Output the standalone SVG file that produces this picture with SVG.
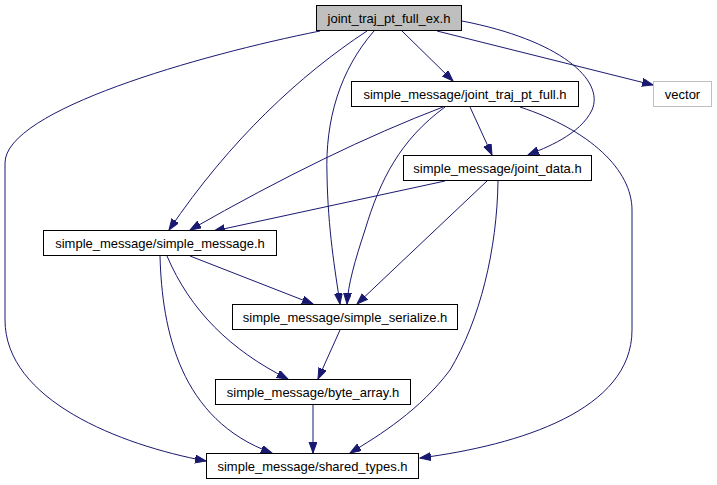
<svg xmlns="http://www.w3.org/2000/svg" width="717" height="485" viewBox="0 0 717 485">
<style>
.n{fill:#ffffff;stroke:#000000;stroke-width:1}
.g{fill:#bfbfbf;stroke:#000000;stroke-width:1}
.v{fill:#ffffff;stroke:#bfbfbf;stroke-width:1}
text{font-family:"Liberation Sans",Arial,sans-serif;font-size:13px;text-anchor:middle;fill:#000000}
.e path{fill:none;stroke:#191970;stroke-width:1;marker-end:url(#a)}
</style>
<defs>
<marker id="a" markerUnits="userSpaceOnUse" markerWidth="13" markerHeight="10" refX="11" refY="4" orient="auto">
<path d="M0,0 L11,4 L0,8 z" fill="#191970" stroke="#191970" stroke-width="1"/>
</marker>
</defs>
<rect width="717" height="485" fill="#ffffff"/>
<g class="e" id="edges">
<path d="M402,31 L453,81"/>
<path d="M437,31 L653,85"/>
<path d="M462,21 C560,40 605,80 592,110 C580,135 545,148 528,155"/>
<path d="M367,31 C300,75 230,140 169,230"/>
<path d="M374,31 C340,70 325,120 327,175 C328,230 335,270 340,304"/>
<path d="M320,31 C200,55 5,110 5,163 L5,320 C5,400 120,445 206,461"/>
<path d="M443,107 Q330,150 190,230"/>
<path d="M445,107 C400,140 380,180 365,230 C355,260 348,285 347,304"/>
<path d="M470,107 L492,155"/>
<path d="M520,107 C590,130 632,170 632,210 L632,330 C632,410 520,445 420,458"/>
<path d="M445,181 L214,231"/>
<path d="M487,181 L357,304"/>
<path d="M498,181 C497,250 480,320 450,370 C420,410 380,435 350,453"/>
<path d="M190,256 L313,304"/>
<path d="M167,256 C190,310 230,350 288,379"/>
<path d="M160,256 C162,330 180,420 272,453"/>
<path d="M340,330 L318,379"/>
<path d="M313,404 L313,453"/>
</g>
<g id="n_top"><rect class="g" x="316.5" y="5.5" width="145" height="25"/><text x="389" y="22.5">joint_traj_pt_full_ex.h</text></g>
<g id="n_jtpf"><rect class="n" x="351.5" y="81.5" width="227" height="25"/><text x="465" y="98.5">simple_message/joint_traj_pt_full.h</text></g>
<g id="n_vector"><rect class="v" x="653.5" y="81.5" width="58" height="25"/><text x="682.5" y="98.5">vector</text></g>
<g id="n_jd"><rect class="n" x="403.5" y="155.5" width="188" height="25"/><text x="497.5" y="172.5">simple_message/joint_data.h</text></g>
<g id="n_sm"><rect class="n" x="43.5" y="230.5" width="233" height="25"/><text x="160" y="247.5">simple_message/simple_message.h</text></g>
<g id="n_ss"><rect class="n" x="232.5" y="304.5" width="225" height="25"/><text x="345" y="321.5">simple_message/simple_serialize.h</text></g>
<g id="n_ba"><rect class="n" x="215.5" y="379.5" width="195" height="25"/><text x="313" y="396.5">simple_message/byte_array.h</text></g>
<g id="n_st"><rect class="n" x="206.5" y="453.5" width="212" height="25"/><text x="312.5" y="470.5">simple_message/shared_types.h</text></g>
</svg>
